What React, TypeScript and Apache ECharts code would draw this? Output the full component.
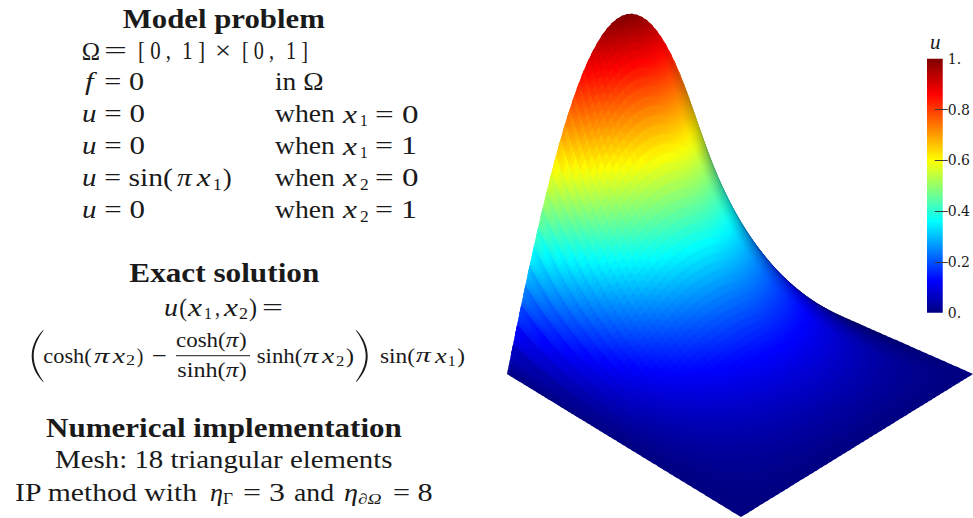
import React, { useEffect, useRef } from "react";
import * as echarts from "echarts";

// ---- surface heights u: rows go along x2 (0 → 1), columns along x1 (0 → 1)
const surfaceU: number[][] = [
  [0, 0.259, 0.5, 0.707, 0.866, 0.966, 1, 0.966, 0.866, 0.707, 0.5, 0.259, 0],
  [0, 0.199, 0.385, 0.544, 0.666, 0.743, 0.769, 0.743, 0.666, 0.544, 0.385, 0.199, 0],
  [0, 0.153, 0.295, 0.417, 0.511, 0.57, 0.59, 0.57, 0.511, 0.417, 0.295, 0.153, 0],
  [0, 0.117, 0.227, 0.32, 0.392, 0.438, 0.453, 0.438, 0.392, 0.32, 0.227, 0.117, 0],
  [0, 0.09, 0.173, 0.245, 0.3, 0.334, 0.346, 0.334, 0.3, 0.245, 0.173, 0.09, 0],
  [0, 0.068, 0.132, 0.186, 0.228, 0.254, 0.263, 0.254, 0.228, 0.186, 0.132, 0.068, 0],
  [0, 0.052, 0.1, 0.141, 0.172, 0.192, 0.199, 0.192, 0.172, 0.141, 0.1, 0.052, 0],
  [0, 0.038, 0.074, 0.105, 0.128, 0.143, 0.148, 0.143, 0.128, 0.105, 0.074, 0.038, 0],
  [0, 0.028, 0.054, 0.076, 0.094, 0.104, 0.108, 0.104, 0.094, 0.076, 0.054, 0.028, 0],
  [0, 0.019, 0.038, 0.053, 0.065, 0.072, 0.075, 0.072, 0.065, 0.053, 0.038, 0.019, 0],
  [0, 0.012, 0.024, 0.033, 0.041, 0.045, 0.047, 0.045, 0.041, 0.033, 0.024, 0.012, 0],
  [0, 0.006, 0.012, 0.016, 0.02, 0.022, 0.023, 0.022, 0.02, 0.016, 0.012, 0.006, 0],
  [0, 0, 0, 0, 0, 0, 0, 0, 0, 0, 0, 0, 0],
];

// ---- colour scale
const colorPositions = [0, 0.125, 0.36, 0.48, 0.6, 0.86, 1];
const colorValues = [
  [0, 0, 128],
  [0, 0, 255],
  [0, 255, 255],
  [127, 255, 127],
  [255, 255, 0],
  [255, 0, 0],
  [128, 0, 0],
];
const colorbarTicks = [0.2, 0.4, 0.6, 0.8];
const colorbarLabels = [0, 0.2, 0.4, 0.6, 0.8, 1];

// ---- texts: [string, left, right, baseline, style]
type Run = [string, number, number, number, string];
const textRuns: Run[] = [
  ["Model problem", 122.7, 325, 27.5, "b"],
  ["Ω", 81.7, 100, 59.3, "r"],
  ["=", 104, 127, 59.3, "r"],
  ["[ 0 ,", 138, 171, 59.3, "r"],
  ["1 ]", 182, 205, 59.3, "r"],
  ["×", 215, 231, 59.3, "r"],
  ["[ 0 ,", 242, 274, 59.3, "r"],
  ["1 ]", 286, 308, 59.3, "r"],
  ["f", 85, 93.5, 90, "i"],
  ["= 0", 104.3, 144, 90, "r"],
  ["in Ω", 275, 323.5, 90, "r"],
  ["u", 82, 96.5, 122.3, "i"],
  ["= 0", 104.3, 145, 122.3, "r"],
  ["when", 275, 335, 122.3, "r"],
  ["x", 343, 357, 122.3, "i"],
  ["1", 360, 367.7, 126, "s"],
  ["= 0", 375, 418.5, 122.3, "r"],
  ["u", 82, 96.5, 154.3, "i"],
  ["= 0", 104.3, 145, 154.3, "r"],
  ["when", 275, 335, 154.3, "r"],
  ["x", 343, 357, 154.3, "i"],
  ["1", 360, 367.7, 158, "s"],
  ["= 1", 375, 417, 154.3, "r"],
  ["u", 82, 96.5, 186, "i"],
  ["= sin(", 104.3, 173, 186, "r"],
  ["π", 177, 191.7, 186, "i"],
  ["x", 196.7, 210.7, 186, "i"],
  ["1", 213, 221.7, 190, "s"],
  [")", 222.7, 231.7, 186, "r"],
  ["when", 275, 335, 186, "r"],
  ["x", 343, 357, 186, "i"],
  ["2", 360, 368.7, 190, "s"],
  ["= 0", 375, 418.5, 186, "r"],
  ["u", 82, 96.5, 218, "i"],
  ["= 0", 104.3, 145, 218, "r"],
  ["when", 275, 335, 218, "r"],
  ["x", 343, 357, 218, "i"],
  ["2", 360, 368.7, 222, "s"],
  ["= 1", 375, 417, 218, "r"],

  ["Exact solution", 129.3, 319.3, 281.7, "b"],
  ["u", 164, 178, 315.7, "i"],
  ["(", 179.3, 187, 315.7, "r"],
  ["x", 188, 202, 315.7, "i"],
  ["1", 204, 212, 319, "s"],
  [",", 215, 220, 315.7, "r"],
  ["x", 224, 238, 315.7, "i"],
  ["2", 239, 248, 319, "s"],
  [")", 249, 257, 315.7, "r"],
  ["=", 262, 283, 315.7, "r"],

  ["cosh(", 43.3, 91.7, 362.7, "f"],
  ["π", 94, 109.3, 362.7, "g"],
  ["x", 112.7, 125, 362.7, "g"],
  ["2", 126, 135, 365.5, "t"],
  [")", 136.7, 143.3, 362.7, "f"],
  ["−", 151.7, 166.7, 362.7, "f"],
  ["cosh(", 176, 225.7, 346.7, "f"],
  ["π", 225.7, 238.3, 346.7, "g"],
  [")", 239, 246.7, 346.7, "f"],
  ["sinh(", 177.3, 225.7, 377.3, "f"],
  ["π", 225.7, 238.3, 377.3, "g"],
  [")", 239, 246.7, 377.3, "f"],
  ["sinh(", 256.7, 302.3, 362.7, "f"],
  ["π", 303, 318.3, 362.7, "g"],
  ["x", 322, 334.3, 362.7, "g"],
  ["2", 336, 344.3, 365.5, "t"],
  [")", 346, 354, 362.7, "f"],
  ["sin(", 380, 415, 362.7, "f"],
  ["π", 415.7, 430.7, 362.7, "g"],
  ["x", 435, 446.7, 362.7, "g"],
  ["1", 447.7, 455.7, 365.5, "t"],
  [")", 457.3, 465, 362.7, "f"],

  ["Numerical implementation", 46, 401.7, 437.3, "b"],
  ["Mesh: 18 triangular elements", 55, 392.7, 468.3, "r"],
  ["IP method with", 15, 198.3, 501, "r"],
  ["η", 210, 223, 501, "i"],
  ["Γ", 223, 233, 504, "s"],
  ["= 3", 243, 285, 501, "r"],
  ["and", 294, 334, 501, "r"],
  ["η", 344, 358, 501, "i"],
  ["∂Ω", 358, 381.7, 504, "u"],
  ["= 8", 393, 432.7, 501, "r"],
];

const FAMILY = '"Liberation Serif", "DejaVu Serif", serif';
const sizeOf: Record<string, number> = { b: 27, r: 26, i: 26, s: 17, u: 15, f: 22, g: 22, t: 15 };
const fontOf: Record<string, string> = {
  b: `bold ${sizeOf.b}px ${FAMILY}`,
  r: `${sizeOf.r}px ${FAMILY}`,
  i: `italic ${sizeOf.i}px ${FAMILY}`,
  s: `${sizeOf.s}px ${FAMILY}`,
  u: `italic ${sizeOf.u}px ${FAMILY}`,
  f: `${sizeOf.f}px ${FAMILY}`,
  g: `italic ${sizeOf.g}px ${FAMILY}`,
  t: `${sizeOf.t}px ${FAMILY}`,
};

// ---- camera
const P00 = [507, 374];
const P10 = [737, 270];
const P11 = [973, 374];
const P01 = [741, 517];
const VANISH = [667, 2914];
const LIFT = -0.1128;

function makeHomography() {
  const dx1 = P10[0] - P11[0], dy1 = P10[1] - P11[1];
  const dx2 = P01[0] - P11[0], dy2 = P01[1] - P11[1];
  const sx = P00[0] - P10[0] + P11[0] - P01[0];
  const sy = P00[1] - P10[1] + P11[1] - P01[1];
  const det = dx1 * dy2 - dx2 * dy1;
  const g = (sx * dy2 - dx2 * sy) / det;
  const h = (dx1 * sy - sx * dy1) / det;
  return {
    a: P10[0] - P00[0] + g * P10[0], b: P01[0] - P00[0] + h * P01[0], c: P00[0],
    d: P10[1] - P00[1] + g * P10[1], e: P01[1] - P00[1] + h * P01[1], f: P00[1],
    g, h,
  };
}
const H = makeHomography();

function project(x1: number, x2: number, z: number): number[] {
  const X = H.a * x1 + H.b * x2 + H.c + z * LIFT * VANISH[0];
  const Y = H.d * x1 + H.e * x2 + H.f + z * LIFT * VANISH[1];
  const W = H.g * x1 + H.h * x2 + 1 + z * LIFT;
  return [X / W, Y / W];
}

function cr(p0: number, p1: number, p2: number, p3: number, t: number) {
  return 0.5 * (2 * p1 + (p2 - p0) * t + (2 * p0 - 5 * p1 + 4 * p2 - p3) * t * t + (3 * p1 - p0 - 3 * p2 + p3) * t * t * t);
}
const N = surfaceU.length - 1;
function cell(i: number, j: number) {
  const cj = Math.max(0, Math.min(N, j));
  if (i < 0) return 2 * surfaceU[0][cj] - surfaceU[1][cj];
  if (i > N) return 2 * surfaceU[N][cj] - surfaceU[N - 1][cj];
  if (j < 0) return 2 * surfaceU[i][0] - surfaceU[i][1];
  if (j > N) return 2 * surfaceU[i][N] - surfaceU[i][N - 1];
  return surfaceU[i][j];
}
function heightAt(x1: number, x2: number) {
  const fj = Math.min(N - 1e-6, Math.max(0, x1 * N));
  const fi = Math.min(N - 1e-6, Math.max(0, x2 * N));
  const j = Math.floor(fj), i = Math.floor(fi);
  const tj = fj - j, ti = fi - i;
  const rows = [-1, 0, 1, 2].map((d) =>
    cr(cell(i + d, j - 1), cell(i + d, j), cell(i + d, j + 1), cell(i + d, j + 2), tj)
  );
  return cr(rows[0], rows[1], rows[2], rows[3], ti);
}

function colorAt(u: number, shade: number): string {
  const v = Math.max(0, Math.min(1, u));
  let k = 0;
  while (k < colorPositions.length - 2 && v > colorPositions[k + 1]) k++;
  const t = (v - colorPositions[k]) / (colorPositions[k + 1] - colorPositions[k]);
  const rgb = colorValues[k].map((c, n) => Math.round((c + (colorValues[k + 1][n] - c) * t) * shade));
  return `rgb(${rgb.join(",")})`;
}

const STEPS_X1 = 52;
const STEPS_X2 = 60;
const VIEW = [-0.56, 0.63, 0.54];
const rowPos = (b: number) => Math.pow(b / STEPS_X2, 1.5);

function shadeAt(x1: number, x2: number) {
  const e = 0.01;
  const du1 = (heightAt(x1 + e, x2) - heightAt(x1 - e, x2)) / (2 * e);
  const du2 = (heightAt(x1, x2 + e) - heightAt(x1, Math.max(0, x2 - e))) / (x2 > e ? 2 * e : e);
  const a = 1.1;
  const nx = -a * du1, ny = -a * du2, nz = 1;
  const len = Math.hypot(nx, ny, nz);
  const dot = (nx * VIEW[0] + ny * VIEW[1] + nz * VIEW[2]) / len;
  return Math.min(1, 0.5 + 0.95 * Math.max(0, dot));
}

const quadData: number[][] = [];
for (let i = 0; i < STEPS_X2; i++) {
  for (let j = STEPS_X1 - 1; j >= 0; j--) quadData.push([j, i]);
}

const PAREN = "M11.4 0 C3.6 8 0 17 0 26 C0 35 3.6 44 11.4 52 L11.8 51.4 C6 43.5 2 35 2 26 C2 17 6 8.5 11.8 0.6 Z";

function measure(font: string, text: string) {
  const ctx = document.createElement("canvas").getContext("2d")!;
  ctx.font = font;
  return ctx.measureText(text).width;
}

const BASELINE_SHIFT = 0.3375;

export default function App() {
  const ref = useRef<HTMLDivElement>(null);
  useEffect(() => {
    if (!ref.current) return;
    echarts.graphic.registerShape("bigParen", echarts.graphic.extendPath(PAREN, {}) as any);
    const chart = echarts.init(ref.current, undefined, { renderer: "svg" });
    const texts = textRuns.map(([text, x0, x1, base, kind]) => {
      const font = fontOf[kind];
      const w = measure(font, text);
      return {
        type: "text",
        x: x0,
        y: base - BASELINE_SHIFT * sizeOf[kind],
        scaleX: (x1 - x0) / w,
        silent: true,
        z: 20,
        style: { text, font, fill: "#1a1a1a", textAlign: "left", textVerticalAlign: "middle" },
      };
    });
    const stops = colorPositions.map((p, k) => ({
      offset: p,
      color: `rgb(${colorValues[k].join(",")})`,
    }));
    chart.setOption({
      animation: false,
      backgroundColor: "#ffffff",
      grid: [
        { left: 0, top: 0, width: 973, height: 518, show: false },
        { left: 927, top: 58.8, width: 16, height: 254, show: false },
      ],
      xAxis: [
        { gridIndex: 0, type: "value", min: 0, max: 973, show: false },
        { gridIndex: 1, type: "category", data: ["u"], show: false },
      ],
      yAxis: [
        { gridIndex: 0, type: "value", min: 0, max: 518, inverse: true, show: false },
        {
          gridIndex: 1,
          type: "value",
          min: 0,
          max: 1,
          position: "right",
          offset: 5,
          z: 10,
          splitLine: { show: false },
          axisLine: { show: false },
          axisTick: {
            show: true,
            inside: true,
            length: 13,
            customValues: colorbarTicks,
            lineStyle: { color: "#3a3a3a", width: 1 },
          },
          axisLabel: {
            show: true,
            inside: false,
            margin: 0,
            customValues: colorbarLabels,
            fontFamily: '"DejaVu Serif"',
            fontSize: 14,
            color: "#1a1a1a",
            formatter: (v: number) => (v === 0 ? "0." : v === 1 ? "1." : v.toFixed(1)),
          },
        },
      ],
      series: [
        {
          type: "custom",
          xAxisIndex: 0,
          yAxisIndex: 0,
          silent: true,
          clip: false,
          data: quadData,
          renderItem: (_p: any, api: any) => {
            const j = api.value(0) as number;
            const i = api.value(1) as number;
            const at = (a: number, b: number) => {
              const x1 = a / STEPS_X1, x2 = rowPos(b);
              return heightAt(x1, x2);
            };
            const corner = (a: number, b: number) =>
              api.coord(project(a / STEPS_X1, rowPos(b), at(a, b)));
            const shade = shadeAt((j + 0.5) / STEPS_X1, (rowPos(i) + rowPos(i + 1)) / 2);
            // each cell laps over the neighbours already painted, so no seam can show
            const jHigh = Math.min(STEPS_X1, j + 1.5);
            const iLow = Math.max(0, i - 0.5);
            const a0 = corner(j, iLow), a1 = corner(jHigh, iLow), a2 = corner(jHigh, i + 1), a3 = corner(j, i + 1);
            const b0 = corner(j, i), b1 = corner(j + 1, i), b2 = corner(j + 1, i + 1), b3 = corner(j, i + 1);
            const u0 = at(j, i), u1 = at(j + 1, i), u2 = at(j + 1, i + 1), u3 = at(j, i + 1);
            // screen-space direction in which u changes across this cell
            const d1x = b2[0] - b0[0], d1y = b2[1] - b0[1], du1 = u2 - u0;
            const d2x = b3[0] - b1[0], d2y = b3[1] - b1[1], du2 = u3 - u1;
            const det = d1x * d2y - d2x * d1y;
            let fill: any = colorAt((u0 + u1 + u2 + u3) / 4, shade);
            if (Math.abs(det) > 0.5) {
              const gx = (du1 * d2y - du2 * d1y) / det;
              const gy = (d1x * du2 - d2x * du1) / det;
              const g2 = gx * gx + gy * gy;
              const uMin = Math.min(u0, u1, u2, u3), uMax = Math.max(u0, u1, u2, u3);
              if (g2 > 1e-10 && uMax - uMin > 1e-4) {
                const cx = (b0[0] + b1[0] + b2[0] + b3[0]) / 4;
                const cy = (b0[1] + b1[1] + b2[1] + b3[1]) / 4;
                const uc = (u0 + u1 + u2 + u3) / 4;
                const tA = (uMin - uc) / g2, tB = (uMax - uc) / g2;
                fill = new echarts.graphic.LinearGradient(
                  cx + gx * tA, cy + gy * tA, cx + gx * tB, cy + gy * tB,
                  [{ offset: 0, color: colorAt(uMin, shade) }, { offset: 1, color: colorAt(uMax, shade) }],
                  true
                );
              }
            }
            return {
              type: "polygon",
              shape: { points: [a0, a1, a2, a3] },
              style: { fill },
            };
          },
        },
        {
          type: "bar",
          xAxisIndex: 1,
          yAxisIndex: 1,
          silent: true,
          barWidth: "100%",
          data: [1],
          itemStyle: {
            color: new echarts.graphic.LinearGradient(0, 1, 0, 0, stops),
          },
        },
      ],
      graphic: {
        elements: [
          ...texts,
          {
            type: "text",
            x: 930,
            y: 42,
            silent: true,
            style: { text: "u", font: `italic 21px ${FAMILY}`, fill: "#1a1a1a", textVerticalAlign: "middle" },
          },
          { type: "line", silent: true, shape: { x1: 176, y1: 355.7, x2: 250, y2: 355.7 }, style: { stroke: "#1a1a1a", lineWidth: 1 } },
          { type: "bigParen", silent: true, x: 31.7, y: 330, style: { fill: "#1a1a1a" } },
          { type: "bigParen", silent: true, x: 367.7, y: 330, scaleX: -1, style: { fill: "#1a1a1a" } },
        ],
      },
    });
    return () => chart.dispose();
  }, []);
  return <div ref={ref} style={{ position: "fixed", left: 0, top: 0, width: 973, height: 518 }} />;
}
